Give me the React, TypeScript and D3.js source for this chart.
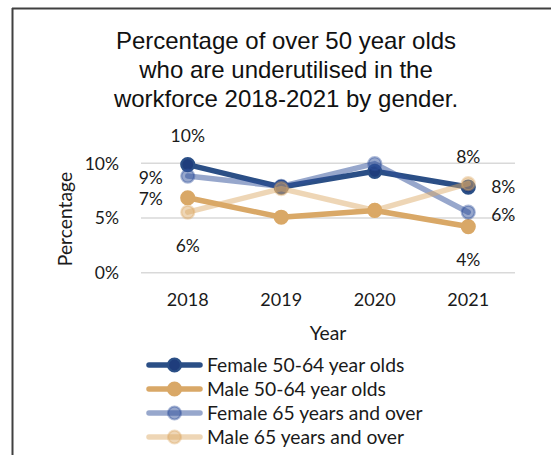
import React from "react";
import * as d3 from "d3";

const years = ["2018", "2019", "2020", "2021"];
const female5064 = [9.88, 7.83, 9.27, 7.83];
const male5064 = [6.85, 5.07, 5.69, 4.22];
const female65 = [8.83, 7.89, 9.97, 5.53];
const male65 = [5.53, 7.68, 5.69, 8.14];
const yTicks = [0, 5, 10];
const titleLines = [
  "Percentage of over 50 year olds",
  "who are underutilised in the",
  "workforce 2018-2021 by gender.",
];
const seriesNames = [
  "Female 50-64 year olds",
  "Male 50-64 year olds",
  "Female 65 years and over",
  "Male 65 years and over",
];
// label placements: [seriesIndex, pointIndex, dx, dy]
const labelSpecs: [number, number, number, number][] = [
  [0, 0, 0, -29],
  [0, 3, 35, 0],
  [1, 0, -37, 1],
  [1, 3, 0, 33],
  [2, 0, -37, 2],
  [2, 3, 35, 2],
  [3, 0, 0, 33],
  [3, 3, 0, -27],
];

const styles = [
  { color: "#2b4f86", fill: "#1f3d7c", op: 1 },
  { color: "#d9a867", fill: "#d9a867", op: 1 },
  { color: "#2f4f9a", fill: "#2f4f9a", op: 0.5 },
  { color: "#dcaa66", fill: "#dcaa66", op: 0.48 },
];

const FONT = "Lato, 'Open Sans', sans-serif";
const NUM = 17.5;
const WORD = 19.3;

export default function App() {
  const data = [female5064, male5064, female65, male65];
  const x = d3.scalePoint<string>().domain(years).range([141, 515]).padding(0.5);
  const y = d3.scaleLinear().domain([0, 10]).range([272.7, 163.3]);
  const line = d3
    .line<number>()
    .x((_, i) => x(years[i]) as number)
    .y((d) => y(d));

  const legendY = [365, 389, 413, 437];

  const marker = (si: number, cx: number, cy: number, key: React.Key) => {
    const s = styles[si];
    return (
      <circle
        key={key}
        cx={cx}
        cy={cy}
        r={6.5}
        fill={s.fill}
        fillOpacity={s.op}
        stroke={s.color}
        strokeOpacity={s.op < 1 ? s.op * 0.8 : 1}
        strokeWidth={2.2}
      />
    );
  };

  return (
    <svg
      width={551}
      height={455}
      style={{ position: "absolute", left: 0, top: 0, background: "#fff" }}
    >
      <rect x={0} y={0} width={551} height={455} fill="#fff" />
      <line x1={12} y1={8.5} x2={551} y2={8.5} stroke="#404040" strokeWidth={2} />
      <line x1={12.5} y1={8} x2={12.5} y2={455} stroke="#404040" strokeWidth={2} />

      {titleLines.map((t, i) => (
        <text
          key={i}
          x={286}
          y={49 + i * 29}
          textAnchor="middle"
          fontFamily="'Liberation Sans', Arial, sans-serif"
          fontSize={24}
          fill="#111"
        >
          {t}
        </text>
      ))}

      {yTicks.map((t) => (
        <g key={t}>
          <line x1={141} x2={515} y1={y(t)} y2={y(t)} stroke="#d9d9d9" strokeWidth={1.5} />
          <text
            x={119}
            y={y(t)}
            dy="0.36em"
            textAnchor="end"
            fontFamily={FONT}
            fontSize={NUM}
            fill="#1a1a1a"
          >
            {t}%
          </text>
        </g>
      ))}

      <text
        transform={`translate(72,219) rotate(-90)`}
        textAnchor="middle"
        fontFamily={FONT}
        fontSize={WORD}
        fill="#1a1a1a"
      >
        Percentage
      </text>

      {years.map((yr) => (
        <text
          key={yr}
          x={x(yr)}
          y={300}
          dy="0.36em"
          textAnchor="middle"
          fontFamily={FONT}
          fontSize={18}
          fill="#1a1a1a"
        >
          {yr}
        </text>
      ))}
      <text x={328} y={333} dy="0.36em" textAnchor="middle" fontFamily={FONT} fontSize={WORD} fill="#1a1a1a">
        Year
      </text>

      {data.map((vals, si) => (
        <g key={si}>
          <path
            d={line(vals) || ""}
            fill="none"
            stroke={styles[si].color}
            strokeOpacity={styles[si].op}
            strokeWidth={5.5}
            strokeLinejoin="round"
            strokeLinecap="round"
          />
          {vals.map((v, i) => marker(si, x(years[i]) as number, y(v), i))}
        </g>
      ))}

      {labelSpecs.map(([si, pi, dx, dy], k) => (
        <text
          key={k}
          x={(x(years[pi]) as number) + dx}
          y={y(data[si][pi]) + dy}
          dy="0.36em"
          textAnchor="middle"
          fontFamily={FONT}
          fontSize={NUM}
          fill="#1a1a1a"
        >
          {Math.round(data[si][pi])}%
        </text>
      ))}

      {seriesNames.map((name, si) => (
        <g key={name}>
          <line
            x1={149}
            x2={200}
            y1={legendY[si]}
            y2={legendY[si]}
            stroke={styles[si].color}
            strokeOpacity={styles[si].op}
            strokeWidth={5.5}
            strokeLinecap="round"
          />
          {marker(si, 174.5, legendY[si], "m")}
          <text
            x={207}
            y={legendY[si]}
            dy="0.36em"
            fontFamily={FONT}
            fontSize={WORD}
            fill="#1a1a1a"
          >
            {name}
          </text>
        </g>
      ))}
    </svg>
  );
}
